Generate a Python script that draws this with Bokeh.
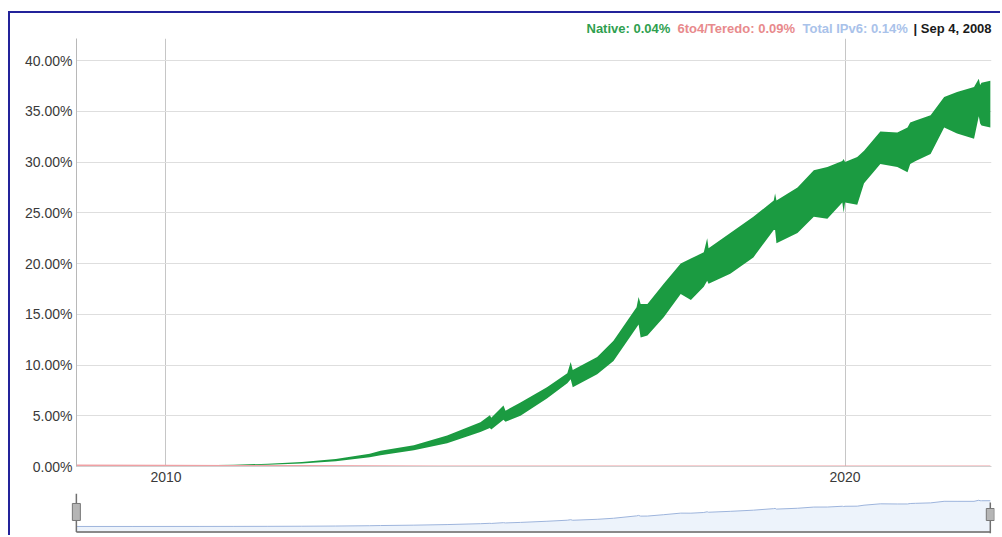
from bokeh.plotting import figure
from bokeh.layouts import column, row
from bokeh.models import FixedTicker, PrintfTickFormatter, Label, Range1d
from bokeh.embed import file_html
from bokeh.resources import INLINE

# ---- data ----
years = [2008.68, 2009.5, 2010.0, 2010.5, 2011.0, 2011.5, 2012.0, 2012.5, 2013.0, 2013.16,
         2013.65, 2014.14, 2014.63, 2014.77, 2014.79, 2014.97, 2015.0, 2015.22, 2015.61, 2015.91,
         2015.96, 2015.99, 2016.35, 2016.59, 2016.93, 2016.96, 2016.99, 2017.09, 2017.33, 2017.58,
         2017.73, 2017.92, 2017.97, 2017.99, 2018.31, 2018.65, 2018.95, 2018.97, 2018.99, 2019.30,
         2019.54, 2019.74, 2019.96, 2019.98, 2020.0, 2020.18, 2020.28, 2020.52, 2020.77, 2020.92,
         2020.96, 2021.04, 2021.26, 2021.46, 2021.65, 2021.90, 2021.97, 2021.99, 2022.01, 2022.14]
native_high = [0.05, 0.07, 0.09, 0.12, 0.17, 0.27, 0.45, 0.75, 1.25, 1.55,
               2.10, 3.05, 4.35, 5.05, 4.80, 6.00, 5.50, 6.30, 7.80, 9.20,
               10.30, 9.50, 10.80, 12.40, 15.70, 16.70, 16.00, 16.00, 18.00, 20.00,
               20.50, 21.10, 22.50, 21.50, 23.00, 24.60, 26.20, 26.90, 26.20, 27.50,
               29.20, 29.50, 30.10, 30.30, 30.00, 30.50, 31.10, 33.00, 32.90, 33.40,
               33.90, 34.10, 34.60, 36.40, 36.90, 37.40, 38.20, 37.60, 37.80, 38.00]
native_low = [0.03, 0.04, 0.06, 0.08, 0.11, 0.17, 0.30, 0.52, 0.90, 1.10,
              1.60, 2.30, 3.40, 3.80, 3.65, 4.60, 4.40, 5.00, 6.70, 8.20,
              8.60, 7.80, 9.10, 10.40, 13.70, 14.00, 12.70, 12.90, 14.70, 17.00,
              16.40, 17.70, 18.30, 18.00, 19.00, 20.60, 23.30, 23.30, 22.00, 23.00,
              24.60, 24.40, 26.00, 25.00, 26.00, 25.80, 27.90, 29.80, 29.50, 29.00,
              29.80, 30.10, 30.80, 33.40, 32.80, 32.30, 34.50, 33.80, 33.60, 33.40]
teredo_years = [2008.68, 2010.0, 2011.0, 2012.0, 2013.0, 2014.0, 2016.0, 2018.0, 2020.0, 2022.14]
teredo_values = [0.09, 0.08, 0.06, 0.04, 0.02, 0.01, 0.01, 0.0, 0.0, 0.0]
y_ticks = [0, 5, 10, 15, 20, 25, 30, 35, 40]
x_ticks = [2010, 2020]
legend_texts = ["Native: 0.04%", "6to4/Teredo: 0.09%", "Total IPv6: 0.14%", "| Sep 4, 2008"]

FONT = "Liberation Sans"
W = 990

# ---- header with the status line (pixel coordinates) ----
h = figure(width=W, height=25, x_range=Range1d(10, 10 + W), y_range=Range1d(38, 13),
           output_backend="svg", toolbar_location=None,
           x_axis_location=None, y_axis_location=None,
           min_border_left=0, min_border_right=0, min_border_top=0, min_border_bottom=0)
h.outline_line_color = None
h.grid.visible = False
legend_colors = ["#2f9f50", "#e88a8c", "#a9c2ea", "#1a1a1a"]
legend_x = [586, 677, 802, 913]
for txt, col, lx in zip(legend_texts, legend_colors, legend_x):
    h.add_layout(Label(x=lx, y=28, text=txt, text_color=col, text_font=FONT,
                       text_font_size="13px", text_font_style="bold", text_baseline="middle",
                       text_align="left"))

# ---- main chart ----
p = figure(width=W, height=452,
           x_range=Range1d(2008.682, 2022.157), y_range=Range1d(0, 42.17),
           output_backend="svg", toolbar_location=None,
           min_border_left=66, min_border_right=9, min_border_top=0, min_border_bottom=24)
p.outline_line_color = None

yt = FixedTicker(ticks=y_ticks)
xt = FixedTicker(ticks=x_ticks)
p.yaxis.ticker = yt
p.ygrid.ticker = yt
p.xaxis.ticker = xt
p.xgrid.ticker = xt
p.yaxis.formatter = PrintfTickFormatter(format="%.2f%%")
for ax in (p.xaxis, p.yaxis):
    ax.major_tick_line_color = None
    ax.minor_tick_line_color = None
    ax.major_tick_out = 0
    ax.major_tick_in = 0
    ax.minor_tick_out = 0
    ax.major_label_text_font = FONT
    ax.major_label_text_font_size = "14px"
    ax.major_label_text_color = "#3a3a3a"
p.yaxis.axis_line_color = "#b8b8b8"
p.xaxis.axis_line_color = "#d0d0d0"
p.yaxis.major_label_standoff = 4
p.xaxis.major_label_standoff = 5
p.ygrid.grid_line_color = "#dedede"
p.xgrid.grid_line_color = "#c6c6c6"

p.varea(x=years, y1=native_low, y2=native_high, fill_color="#1b9b41")
p.line(teredo_years, teredo_values, line_color="#f0a0a4", line_width=2)

# ---- range selector ----
mid = [(a + b) / 2 for a, b in zip(native_high, native_low)]
base = -7.6
m = figure(width=W, height=45,
           x_range=Range1d(2008.5346, 2022.2017), y_range=Range1d(-9.7, 45.7),
           output_backend="svg", toolbar_location=None,
           x_axis_location=None, y_axis_location=None,
           min_border_left=56, min_border_right=6, min_border_top=3, min_border_bottom=2)
m.outline_line_color = None
m.grid.visible = False
m.varea(x=years, y1=[base] * len(years), y2=mid, fill_color="#edf3fb")
m.line(years, mid, line_color="#9db4dc", line_width=1)
m.line([years[0], years[-1]], [base, base], line_color="#8a8a8a", line_width=2)
m.segment(x0=[years[0], years[-1]], y0=[base, -9.7], x1=[years[0], years[-1]], y1=[45.7, 33.2],
          line_color="#707070", line_width=1.5)
m.rect(x=[years[0]], y=[20.1], width=8, height=17, width_units="screen", height_units="screen",
       fill_color="#b5b5b5", line_color="#777777")
m.rect(x=[years[-1]], y=[16.6], width=8, height=12, width_units="screen", height_units="screen",
       fill_color="#b5b5b5", line_color="#777777")

layout = column(row(h), p, row(m), spacing=0,
                styles={"border-top": "2px solid #23239a", "border-left": "2px solid #23239a",
                        "margin-top": "11px", "margin-left": "8px"})

open("out.html", "w").write(file_html(layout, INLINE))
